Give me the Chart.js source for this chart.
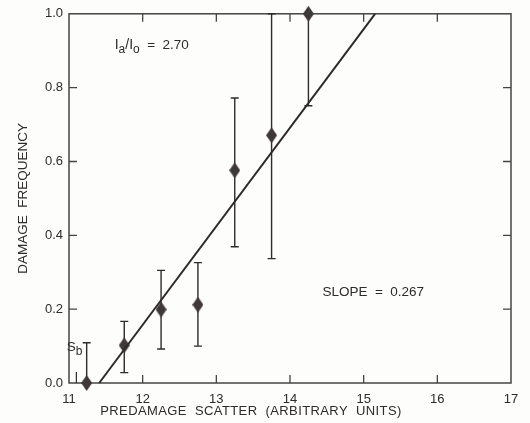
<!DOCTYPE html>
<html>
<head>
<meta charset="utf-8">
<script src="https://cdn.jsdelivr.net/npm/chart.js@4.4.0/dist/chart.umd.min.js"></script>
<style>
  html, body { margin: 0; padding: 0; background: #fdfdfb; }
  #wrap { width: 530px; height: 423px; }
</style>
</head>
<body>
<div id="wrap"><canvas id="damageChart" width="530" height="423"></canvas></div>
<script>
// measured points (predamage scatter vs damage frequency)
const scatterX = [11.24, 11.75, 12.25, 12.75, 13.25, 13.75, 14.25];
const damageY  = [0.0, 0.102, 0.199, 0.212, 0.576, 0.671, 1.0];
const errLow   = [0.0, 0.028, 0.092, 0.100, 0.369, 0.337, 0.751];
const errHigh  = [0.109, 0.167, 0.305, 0.326, 0.772, 1.0, 1.0];

// fitted line end points
const fitX = [11.41, 15.155];
const fitY = [0.0, 1.0];

const xTicks = [11, 12, 13, 14, 15, 16, 17];
const yTicks = [0.0, 0.2, 0.4, 0.6, 0.8, 1.0];

const xTitle = 'PREDAMAGE  SCATTER  (ARBITRARY  UNITS)';
const yTitle = 'DAMAGE  FREQUENCY';

const ink = '#2e2b2b';
const font = "'Liberation Sans', Arial, sans-serif";

// tall diamond marker
function makeDiamond() {
  const c = document.createElement('canvas');
  c.width = 11; c.height = 16;
  const g = c.getContext('2d');
  g.fillStyle = '#3f3838';
  g.beginPath();
  g.moveTo(5.5, 0);
  g.lineTo(11, 8);
  g.lineTo(5.5, 16);
  g.lineTo(0, 8);
  g.closePath();
  g.fill();
  return c;
}

const frameAndBars = {
  id: 'frameAndBars',
  beforeDatasetsDraw(chart) {
    const { ctx, chartArea: a, scales: { x, y } } = chart;
    ctx.save();
    ctx.strokeStyle = '#444';
    ctx.lineWidth = 1.5;
    ctx.strokeRect(a.left, a.top, a.right - a.left, a.bottom - a.top);

    // inward ticks on all four sides
    ctx.lineWidth = 1.3;
    const t = 8;
    xTicks.slice(1, -1).forEach((v) => {
      const px = x.getPixelForValue(v);
      ctx.beginPath();
      ctx.moveTo(px, a.bottom); ctx.lineTo(px, a.bottom - t);
      ctx.moveTo(px, a.top); ctx.lineTo(px, a.top + t);
      ctx.stroke();
    });
    yTicks.slice(1, -1).forEach((v) => {
      const py = y.getPixelForValue(v);
      ctx.beginPath();
      ctx.moveTo(a.left, py); ctx.lineTo(a.left + t, py);
      ctx.moveTo(a.right, py); ctx.lineTo(a.right - t, py);
      ctx.stroke();
    });

    // error bars
    ctx.strokeStyle = ink;
    ctx.lineWidth = 1.4;
    scatterX.forEach((v, i) => {
      const px = x.getPixelForValue(v);
      const hi = y.getPixelForValue(errHigh[i]);
      const lo = y.getPixelForValue(errLow[i]);
      ctx.beginPath();
      ctx.moveTo(px, hi); ctx.lineTo(px, lo);
      ctx.moveTo(px - 4, hi); ctx.lineTo(px + 4, hi);
      ctx.moveTo(px - 4, lo); ctx.lineTo(px + 4, lo);
      ctx.stroke();
    });

    // Sb marker
    const sx = x.getPixelForValue(11.1);
    ctx.lineWidth = 1.2;
    ctx.beginPath();
    ctx.moveTo(sx, y.getPixelForValue(0)); ctx.lineTo(sx, y.getPixelForValue(0.03));
    ctx.stroke();
    ctx.restore();
  },
  afterDatasetsDraw(chart) {
    const { ctx, scales: { x, y } } = chart;
    ctx.save();
    ctx.fillStyle = ink;
    ctx.textBaseline = 'alphabetic';

    // pieces: [text, size, dy]
    function write(px, py, parts) {
      parts.forEach(([txt, size, dy]) => {
        ctx.font = size + 'px ' + font;
        ctx.fillText(txt, px, py + dy);
        px += ctx.measureText(txt).width;
      });
    }
    write(x.getPixelForValue(11.62), y.getPixelForValue(0.905), [
      ['I', 14, 0], ['a', 12, 4], ['/I', 14, 0], ['o', 12, 4], ['  =  2.70', 13.5, 0]
    ]);
    write(x.getPixelForValue(14.44), y.getPixelForValue(0.235), [
      ['SLOPE  =  0.267', 13.5, 0]
    ]);
    write(x.getPixelForValue(10.97), y.getPixelForValue(0.088), [
      ['S', 13.5, 0], ['b', 12, 4]
    ]);

    // x axis title, centred under the page rather than the plot box
    ctx.font = '13px ' + font;
    ctx.letterSpacing = '0.4px';
    ctx.textAlign = 'center';
    ctx.fillText(xTitle, 251, 415);
    ctx.restore();
  }
};

const ctx = document.getElementById('damageChart').getContext('2d');
new Chart(ctx, {
  type: 'scatter',
  data: {
    datasets: [
      {
        label: 'fit',
        type: 'line',
        data: fitX.map((v, i) => ({ x: v, y: fitY[i] })),
        borderColor: '#2e2a2a',
        borderWidth: 2,
        pointRadius: 0,
        fill: false,
        clip: false
      },
      {
        label: 'damage',
        data: scatterX.map((v, i) => ({ x: v, y: damageY[i] })),
        pointStyle: makeDiamond(),
        pointRadius: 6,
        clip: false
      }
    ]
  },
  options: {
    responsive: false,
    animation: false,
    layout: { padding: { left: 0, right: 19, top: 12, bottom: 0 } },
    plugins: { legend: { display: false }, tooltip: { enabled: false } },
    scales: {
      x: {
        type: 'linear',
        min: 11, max: 17,
        afterBuildTicks: (s) => { s.ticks = xTicks.map((v) => ({ value: v })); },
        afterFit: (s) => { s.height = 40; },
        grid: { display: false, drawTicks: false },
        border: { display: false },
        ticks: { color: ink, padding: 9, maxRotation: 0, font: { family: font, size: 13 } },
        title: { display: false }
      },
      y: {
        min: 0, max: 1,
        afterBuildTicks: (s) => { s.ticks = yTicks.map((v) => ({ value: v })); },
        afterFit: (s) => { s.width = 69; },
        grid: { display: false, drawTicks: false },
        border: { display: false },
        ticks: {
          color: ink, padding: 6,
          font: { family: font, size: 13 },
          callback: (v) => v.toFixed(1)
        },
        title: {
          display: true,
          text: yTitle,
          color: ink,
          padding: { top: 15, bottom: 0 },
          font: { family: font, size: 13.5 }
        }
      }
    }
  },
  plugins: [frameAndBars]
});
</script>
</body>
</html>
